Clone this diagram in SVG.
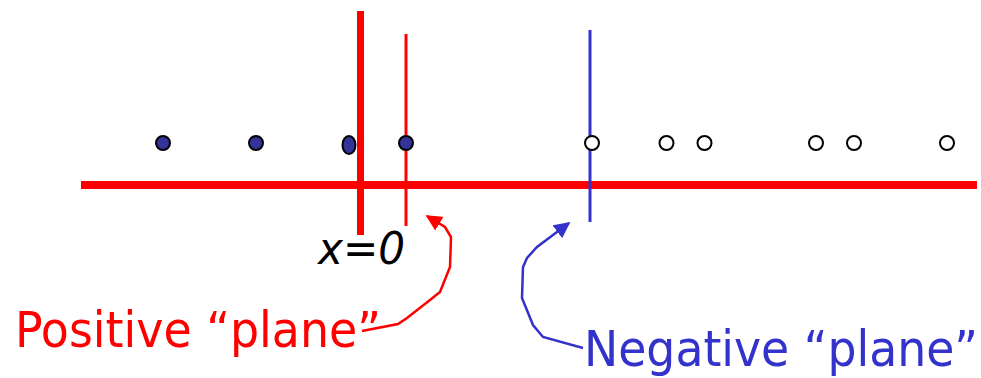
<svg xmlns="http://www.w3.org/2000/svg" width="981" height="378" viewBox="0 0 981 378">
<style>
.pos{fill:#333399;stroke:#000;stroke-width:2}
.neg{fill:#fff;stroke:#000;stroke-width:2}
.lbl{font-family:"DejaVu Sans Condensed","Liberation Sans",sans-serif}
</style>
<defs>
<marker id="arR" viewBox="0 0 10 10" refX="9" refY="5" markerWidth="6.5" markerHeight="6.5" orient="auto"><path d="M0,0 L10,5 L0,10 z" fill="#ff0000"/></marker>
<marker id="arB" viewBox="0 0 10 10" refX="9" refY="5" markerWidth="6.5" markerHeight="6.5" orient="auto"><path d="M0,0 L10,5 L0,10 z" fill="#3333cc"/></marker>
</defs>
<rect width="981" height="378" fill="#fff"/>
<g id="axis">
<line x1="81" y1="185" x2="977" y2="185" stroke="#ff0000" stroke-width="8"/>
</g>
<g id="x0-line"><line x1="360.5" y1="11" x2="360.5" y2="235" stroke="#ff0000" stroke-width="7"/></g>
<g id="positive-plane-line"><line x1="406" y1="34" x2="406" y2="226" stroke="#ff0000" stroke-width="3"/></g>
<g id="negative-plane-line"><line x1="590" y1="30" x2="590" y2="222" stroke="#3333cc" stroke-width="3"/></g>
<g id="positive-points">
<circle class="pos" cx="163" cy="143" r="7"/>
<circle class="pos" cx="256" cy="143" r="7"/>
<ellipse class="pos" cx="349" cy="145" rx="6.5" ry="9"/>
<circle class="pos" cx="406" cy="143" r="7"/>
</g>
<g id="negative-points">
<circle class="neg" cx="592" cy="143" r="7"/>
<circle class="neg" cx="666.5" cy="143" r="7"/>
<circle class="neg" cx="704.5" cy="143" r="7"/>
<circle class="neg" cx="816" cy="143" r="7"/>
<circle class="neg" cx="854" cy="143" r="7"/>
<circle class="neg" cx="947" cy="143" r="7"/>
</g>
<g id="connectors" fill="none" stroke-width="2.5">
<path d="M362,331 L398,324 L407,318 L430,300 L440,292 L450,267 L451,237 L445,227 L427,216" stroke="#ff0000" marker-end="url(#arR)"/>
<path d="M583,348 L543,337 L533,325 L522,298 L523,267 L527,258 L537,247 L569,223" stroke="#3333cc" marker-end="url(#arB)"/>
</g>
<g id="label-x0"><text class="lbl" x="318" y="264" font-size="44" font-style="italic" fill="#000" textLength="87" lengthAdjust="spacingAndGlyphs">x=0</text></g>
<g id="label-positive"><text class="lbl" x="15" y="347" font-size="50" fill="#ff0000" textLength="366" lengthAdjust="spacingAndGlyphs">Positive “plane”</text></g>
<g id="label-negative"><text class="lbl" x="584" y="366" font-size="50" fill="#3333cc" textLength="394" lengthAdjust="spacingAndGlyphs">Negative “plane”</text></g>
</svg>
